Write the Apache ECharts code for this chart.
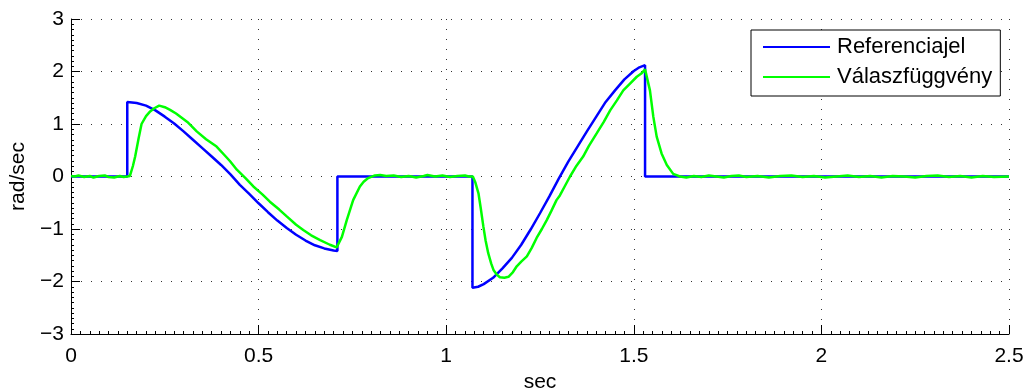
<!DOCTYPE html>
<html>
<head>
<meta charset="utf-8">
<script src="https://cdn.jsdelivr.net/npm/echarts@6/dist/echarts.min.js"></script>
<style>
html,body{margin:0;padding:0;background:#fff;}
#c{width:1031px;height:390px;}
</style>
</head>
<body>
<div id="c"></div>
<script>
const seriesNames = ['Referenciajel', 'Válaszfüggvény'];
const axisNames = { x: 'sec', y: 'rad/sec' };

// [time (sec), value (rad/sec)]
const referenceSignal = [
  [0, 0], [0.15, 0], [0.15, 1.42], [0.175, 1.40], [0.20, 1.35], [0.225, 1.26], [0.25, 1.14],
  [0.275, 1.01], [0.30, 0.86], [0.325, 0.70], [0.35, 0.54], [0.375, 0.38], [0.40, 0.22],
  [0.425, 0.04], [0.45, -0.16], [0.475, -0.33], [0.50, -0.51], [0.525, -0.68], [0.55, -0.84],
  [0.575, -0.98], [0.60, -1.11], [0.625, -1.22], [0.65, -1.31], [0.675, -1.37], [0.70, -1.41],
  [0.71, -1.42], [0.71, 0], [1.07, 0], [1.07, -2.12], [1.085, -2.10], [1.10, -2.05],
  [1.125, -1.93], [1.15, -1.75], [1.175, -1.55], [1.20, -1.30], [1.225, -1.01], [1.25, -0.70],
  [1.275, -0.38], [1.30, -0.04], [1.325, 0.28], [1.35, 0.57], [1.375, 0.86], [1.40, 1.14],
  [1.425, 1.42], [1.45, 1.64], [1.475, 1.85], [1.50, 2.01], [1.515, 2.08], [1.53, 2.12],
  [1.53, 0], [2.5, 0]
];

const responseSignal = [
  [0, 0.01], [0.01, 0.00], [0.02, 0.02], [0.035, -0.01], [0.05, 0.01], [0.06, -0.02], [0.075, 0.01],
  [0.09, 0.02], [0.10, -0.01], [0.115, -0.02], [0.13, 0.01], [0.14, -0.01], [0.15, 0.00], [0.157, 0.01],
  [0.165, 0.20], [0.171, 0.38], [0.18, 0.72], [0.188, 1.00], [0.20, 1.15], [0.211, 1.24], [0.222, 1.30],
  [0.235, 1.35], [0.25, 1.32], [0.264, 1.27], [0.28, 1.20], [0.295, 1.12], [0.31, 1.04], [0.32, 0.97],
  [0.335, 0.86], [0.36, 0.71], [0.388, 0.57], [0.41, 0.40], [0.424, 0.29], [0.442, 0.13], [0.465, -0.03],
  [0.486, -0.19], [0.51, -0.34], [0.53, -0.48], [0.555, -0.63], [0.575, -0.76], [0.60, -0.92],
  [0.619, -1.02], [0.64, -1.12], [0.664, -1.21], [0.69, -1.30], [0.708, -1.35], [0.712, -1.37],
  [0.722, -1.15], [0.735, -0.83], [0.752, -0.45], [0.77, -0.19], [0.78, -0.10], [0.792, -0.03],
  [0.81, 0.02], [0.824, 0.03], [0.84, 0.01], [0.86, 0.02], [0.88, -0.01], [0.90, 0.01], [0.92, -0.02],
  [0.94, 0.01], [0.95, 0.03], [0.97, 0.00], [0.99, 0.02], [1.01, -0.01], [1.03, 0.01], [1.05, 0.02],
  [1.06, 0.00], [1.071, 0.00], [1.078, -0.12], [1.086, -0.32], [1.092, -0.60], [1.099, -0.95],
  [1.105, -1.22], [1.112, -1.46], [1.12, -1.66], [1.126, -1.78], [1.135, -1.87], [1.143, -1.92],
  [1.155, -1.93], [1.166, -1.91], [1.178, -1.82], [1.188, -1.71], [1.20, -1.62], [1.215, -1.52],
  [1.228, -1.36], [1.241, -1.17], [1.255, -1.00], [1.268, -0.83], [1.28, -0.66], [1.294, -0.45],
  [1.303, -0.36], [1.315, -0.20], [1.33, 0.00], [1.345, 0.18], [1.365, 0.38], [1.38, 0.58],
  [1.401, 0.82], [1.42, 1.04], [1.437, 1.26], [1.455, 1.45], [1.472, 1.64], [1.49, 1.77],
  [1.508, 1.90], [1.52, 1.96], [1.53, 2.04], [1.543, 1.64], [1.552, 1.14], [1.561, 0.76],
  [1.574, 0.44], [1.588, 0.22], [1.605, 0.05], [1.623, 0.00], [1.64, -0.02], [1.66, 0.01],
  [1.68, -0.01], [1.70, 0.02], [1.72, 0.00], [1.74, -0.02], [1.76, 0.01], [1.78, 0.02], [1.80, -0.01],
  [1.83, 0.01], [1.86, -0.02], [1.89, 0.01], [1.92, 0.02], [1.95, -0.01], [1.98, 0.01], [2.01, -0.02],
  [2.04, 0.00], [2.07, 0.02], [2.10, -0.01], [2.13, 0.01], [2.16, -0.02], [2.19, 0.01], [2.22, 0.00],
  [2.25, -0.02], [2.28, 0.01], [2.31, 0.02], [2.34, -0.01], [2.37, 0.01], [2.40, -0.02], [2.43, 0.01],
  [2.46, -0.01], [2.50, 0.00]
];

const FONT = '"Liberation Sans", Arial, Helvetica, sans-serif';
const fmt = v => String(v).replace('-', '\u2212');
const gridDots = { show: true, lineStyle: { color: '#333', width: 1, type: [1, 9] } };

const chart = echarts.init(document.getElementById('c'), null, { renderer: 'canvas' });
chart.setOption({
  animation: false,
  backgroundColor: '#fff',
  textStyle: { fontFamily: FONT },
  grid: { left: 71, right: 22, top: 19, bottom: 56, containLabel: false, outerBoundsMode: 'none' },
  legend: {
    left: 751, top: 30,
    orient: 'vertical',
    icon: 'rect',
    itemWidth: 67, itemHeight: 2, itemGap: 8,
    padding: [6, 8, 8, 12],
    backgroundColor: '#fff',
    borderColor: '#000', borderWidth: 1, borderRadius: 0,
    textStyle: { fontFamily: FONT, fontSize: 22, color: '#000', lineHeight: 20, padding: [2, 0, 0, 2] },
    data: seriesNames
  },
  xAxis: {
    type: 'value', min: 0, max: 2.5, interval: 0.5,
    name: axisNames.x, nameLocation: 'middle', nameGap: 36,
    nameTextStyle: { fontFamily: FONT, fontSize: 21, color: '#000' },
    axisLine: { show: true, onZero: false, lineStyle: { color: '#000', width: 1 } },
    axisTick: { show: true, inside: true, length: 9, lineStyle: { color: '#000' } },
    minorTick: { show: true, splitNumber: 20, length: 3, lineStyle: { color: '#000' } },
    axisLabel: { fontFamily: FONT, fontSize: 21, color: '#000', margin: 12, formatter: fmt },
    splitLine: gridDots
  },
  yAxis: {
    type: 'value', min: -3, max: 3, interval: 1,
    name: axisNames.y, nameLocation: 'middle', nameGap: 40,
    nameTextStyle: { fontFamily: FONT, fontSize: 21, color: '#000' },
    axisLine: { show: true, onZero: false, lineStyle: { color: '#000', width: 1 } },
    axisTick: { show: true, inside: true, length: 9, lineStyle: { color: '#000' } },
    minorTick: { show: true, splitNumber: 10, length: 3, lineStyle: { color: '#000' } },
    axisLabel: { fontFamily: FONT, fontSize: 21, color: '#000', margin: 7, formatter: fmt },
    splitLine: gridDots
  },
  series: [
    {
      name: seriesNames[0], type: 'line', data: referenceSignal,
      showSymbol: false, symbol: 'none', color: '#0000ff',
      lineStyle: { color: '#0000ff', width: 2.5 }, z: 2
    },
    {
      name: seriesNames[1], type: 'line', data: responseSignal,
      showSymbol: false, symbol: 'none', color: '#00ff00',
      lineStyle: { color: '#00ff00', width: 2.5 }, z: 3
    }
  ]
});
</script>
</body>
</html>
